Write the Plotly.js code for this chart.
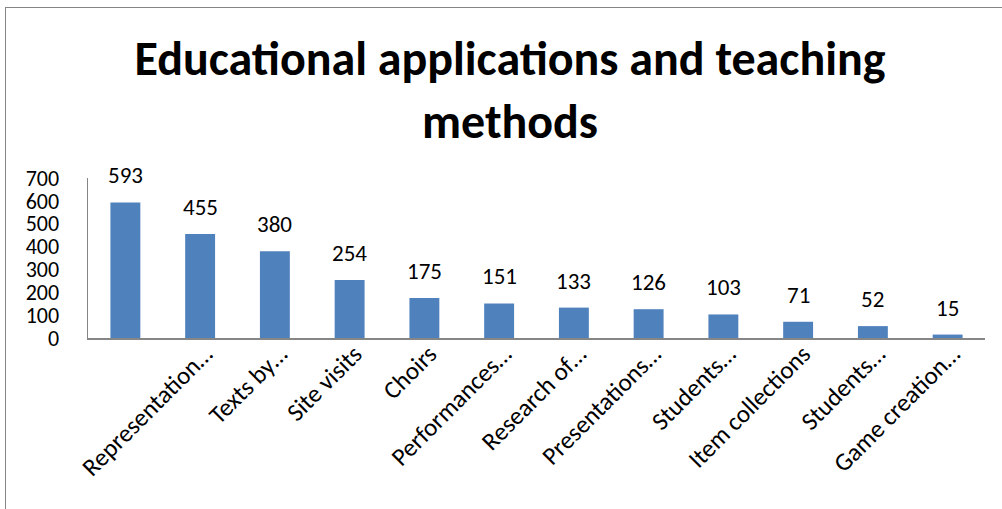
<!DOCTYPE html>
<html>
<head>
<meta charset="utf-8">
<script src="https://cdn.plot.ly/plotly-3.0.1.min.js"></script>
<style>
  html, body { margin: 0; padding: 0; background: #ffffff; overflow: hidden; }
  #chart { position: absolute; left: 0; top: 0; width: 1002px; height: 509px; }
  #frame { position: absolute; left: 5px; top: 7px; width: 1020px; height: 530px;
           border: 1.5px solid #868686; pointer-events: none; box-sizing: border-box; }
</style>
</head>
<body>
<div id="chart"></div>
<div id="frame"></div>
<script>
// Category keys (one per bar) and the tick labels shown beneath them
const categories = ["c1", "c2", "c3", "c4", "c5", "c6", "c7", "c8", "c9", "c10", "c11", "c12"];
const tickLabels = ["", "Representation…", "Texts by…", "Site visits", "Choirs", "Performances…",
                    "Research of…", "Presentations…", "Students…", "Item collections", "Students…", "Game creation…"];
const values = [593, 455, 380, 254, 175, 151, 133, 126, 103, 71, 52, 15];
const yTicks = [0, 100, 200, 300, 400, 500, 600, 700];

const FONT = "Carlito, Lato, 'Liberation Sans', sans-serif";

const trace = {
  type: "bar",
  x: categories,
  y: values,
  marker: { color: "#4F81BD" },
  width: 0.4,
  hoverinfo: "x+y"
};

const annotations = categories.map((c, i) => ({
  x: c, y: values[i], xref: "x", yref: "y",
  text: String(values[i]),
  showarrow: false,
  yanchor: "bottom",
  yshift: 11,
  font: { family: FONT, size: 23, color: "#000000" }
}));

const layout = {
  width: 1002, height: 509,
  margin: { l: 88, r: 17, t: 178, b: 171, pad: 0 },
  paper_bgcolor: "#ffffff",
  plot_bgcolor: "#ffffff",
  showlegend: false,
  title: {
    text: "<b>Educational applications and teaching<br>methods</b>",
    font: { family: FONT, size: 48, color: "#000000" },
    x: 0.509, xanchor: "center",
    y: 0.852, yanchor: "middle", yref: "container"
  },
  xaxis: {
    type: "category",
    tickvals: categories,
    ticktext: tickLabels,
    tickangle: -45,
    tickfont: { family: FONT, size: 25, color: "#000000" },
    ticklabelstandoff: -10,
    ticklabelshift: 5,
    showline: true, linecolor: "#868686", linewidth: 1.5,
    showgrid: false, zeroline: false, ticks: "",
    fixedrange: true
  },
  yaxis: {
    range: [0, 700],
    tickvals: yTicks,
    tickfont: { family: FONT, size: 22, color: "#000000" },
    showline: true, linecolor: "#868686", linewidth: 1.5,
    showgrid: false, zeroline: false, ticks: "",
    ticklabelstandoff: 23,
    fixedrange: true
  },
  annotations: annotations
};

Plotly.newPlot("chart", [trace], layout, { displayModeBar: false, staticPlot: true });
</script>
</body>
</html>
